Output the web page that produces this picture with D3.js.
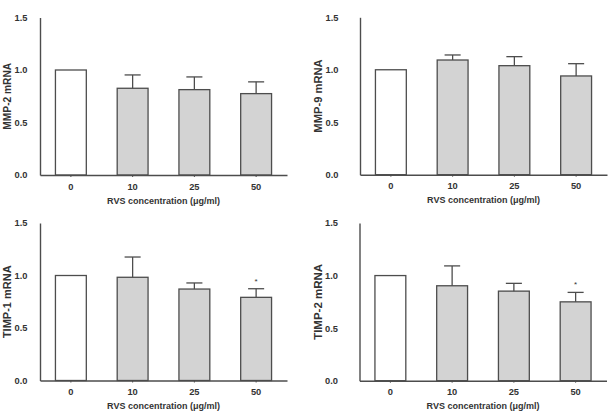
<!DOCTYPE html>
<html><head><meta charset="utf-8">
<script src="https://cdn.jsdelivr.net/npm/d3@7"></script>
<style>body{margin:0;background:#fff}svg{display:block}text{font-family:Arial,"Liberation Sans",sans-serif;font-weight:bold;fill:#333}</style>
</head><body>
<script>
const categories = ["0", "10", "25", "50"];
const yTicks = [0, 0.5, 1.0, 1.5];
const xTitle = "RVS concentration (μg/ml)";

const mmp2Values = [1.0, 0.826, 0.813, 0.775];
const mmp2Errors = [0, 0.127, 0.121, 0.112];
const mmp2Stars = [false, false, false, false];

const mmp9Values = [1.0, 1.093, 1.039, 0.941];
const mmp9Errors = [0, 0.048, 0.086, 0.117];
const mmp9Stars = [false, false, false, false];

const timp1Values = [1.0, 0.983, 0.871, 0.792];
const timp1Errors = [0, 0.193, 0.058, 0.082];
const timp1Stars = [false, false, false, true];

const timp2Values = [1.0, 0.903, 0.852, 0.750];
const timp2Errors = [0, 0.189, 0.074, 0.090];
const timp2Stars = [false, false, false, true];

const panels = [
  {title: "MMP-2 mRNA", values: mmp2Values, errors: mmp2Errors, stars: mmp2Stars,
   x0: 40, x1: 287, y0: 175, y1: 17.5, tickGap: 12.5, labelX: 10.7, titleSize: 10.2},
  {title: "MMP-9 mRNA", values: mmp9Values, errors: mmp9Errors, stars: mmp9Stars,
   x0: 360, x1: 607, y0: 174.7, y1: 17.3, tickGap: 21.5, labelX: 322, titleSize: 11.2},
  {title: "TIMP-1 mRNA", values: timp1Values, errors: timp1Errors, stars: timp1Stars,
   x0: 40, x1: 287, y0: 380.5, y1: 223, tickGap: 12.5, labelX: 10.7, titleSize: 11},
  {title: "TIMP-2 mRNA", values: timp2Values, errors: timp2Errors, stars: timp2Stars,
   x0: 359.5, x1: 606.5, y0: 380.7, y1: 223, tickGap: 21.5, labelX: 322.3, titleSize: 11.5}
];

const svg = d3.select("body").append("svg").attr("width", 610).attr("height", 414);
const lineColor = "#4d4d4d";
const fontStack = "Arial, 'Liberation Sans', sans-serif";

panels.forEach(p => {
  const g = svg.append("g");
  const x = d3.scaleBand().domain(categories).range([p.x0, p.x1]).paddingInner(0.5).paddingOuter(0.25);
  const y = d3.scaleLinear().domain([0, 1.5]).range([p.y0, p.y1]);

  // bars
  g.selectAll("rect.bar").data(categories).join("rect")
    .attr("x", d => x(d)).attr("width", x.bandwidth())
    .attr("y", (d, i) => y(p.values[i])).attr("height", (d, i) => y(0) - y(p.values[i]))
    .attr("fill", (d, i) => i === 0 ? "#ffffff" : "#d3d3d3")
    .attr("stroke", lineColor).attr("stroke-width", 1.3);

  // error bars
  const capHalf = x.bandwidth() * 0.26;
  categories.forEach((c, i) => {
    if (p.errors[i] <= 0) return;
    const cx = x(c) + x.bandwidth() / 2;
    const top = y(p.values[i] + p.errors[i]);
    g.append("line").attr("x1", cx).attr("x2", cx)
      .attr("y1", y(p.values[i])).attr("y2", top)
      .attr("stroke", lineColor).attr("stroke-width", 1.3);
    g.append("line").attr("x1", cx - capHalf).attr("x2", cx + capHalf)
      .attr("y1", top).attr("y2", top)
      .attr("stroke", lineColor).attr("stroke-width", 1.3);
    if (p.stars[i]) {
      g.append("text").attr("x", cx).attr("y", top - 5)
        .attr("text-anchor", "middle").style("font-size", "8px").style("font-weight", "normal")
        .text("*");
    }
  });

  // y axis
  const ya = g.append("g").attr("transform", `translate(${p.x0},0)`)
    .call(d3.axisLeft(y).tickValues(yTicks).tickFormat(d3.format(".1f")).tickSize(0).tickPadding(p.tickGap));
  ya.select(".domain").attr("stroke", lineColor).attr("stroke-width", 1.4);
  ya.selectAll("text").style("font-size", "9.3px").style("font-family", fontStack).style("font-weight", "bold").attr("fill", "#333");

  // x axis
  const xa = g.append("g").attr("transform", `translate(0,${p.y0})`)
    .call(d3.axisBottom(x).tickSize(2).tickPadding(6).tickSizeOuter(0));
  xa.select(".domain").attr("stroke", lineColor).attr("stroke-width", 1.4);
  xa.selectAll(".tick line").attr("stroke", lineColor);
  xa.selectAll("text").style("font-size", "9.3px").style("font-family", fontStack).style("font-weight", "bold").attr("fill", "#333");

  // x title
  g.append("text").attr("x", (p.x0 + p.x1) / 2).attr("y", p.y0 + 28.5)
    .attr("text-anchor", "middle").style("font-size", "9px").text(xTitle);

  // y title
  g.append("text").attr("transform", `translate(${p.labelX},${(p.y0 + p.y1) / 2}) rotate(-90)`)
    .attr("text-anchor", "middle").style("font-size", p.titleSize + "px").text(p.title);
});
</script>
</body></html>
